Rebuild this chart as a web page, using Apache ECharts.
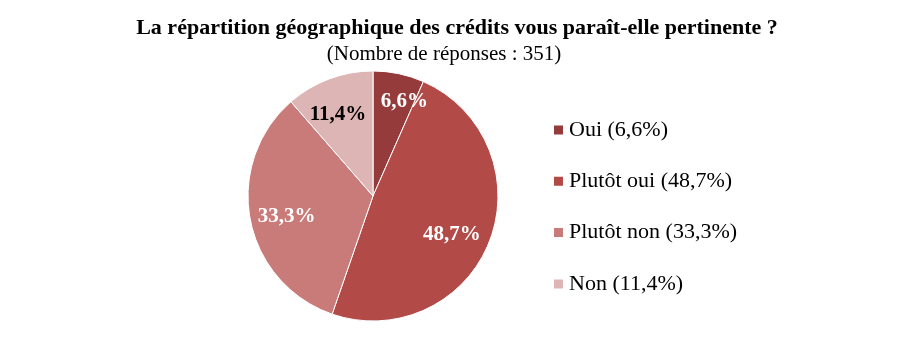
<!DOCTYPE html>
<html><head><meta charset="utf-8">
<script src="https://cdn.jsdelivr.net/npm/echarts@6/dist/echarts.min.js"></script>
<style>html,body{margin:0;padding:0;background:#fff}#c{width:914px;height:362px}</style>
</head><body><div id="c"></div>
<script>
const categories = ['Oui', 'Plutôt oui', 'Plutôt non', 'Non'];
const values = [6.6, 48.7, 33.3, 11.4];
const labels = ['6,6%', '48,7%', '33,3%', '11,4%'];
const colors = ['#963B3B', '#B24A48', '#C87B79', '#DDB5B4'];
const labelColors = ['#fff', '#fff', '#fff', '#000'];
const labelOffsets = [[18, -30], [18, 15], [-22, 8], [-12, -20]];
const font = 'Liberation Serif';

const chart = echarts.init(document.getElementById('c'), null, {renderer: 'canvas'});
chart.setOption({
  animation: false,
  title: [
    {text: 'La répartition géographique des crédits vous paraît-elle pertinente ?', left: 457, top: 17, textAlign: 'center', padding: 0,
     textStyle: {fontFamily: font, fontWeight: 'bold', fontSize: 22, color: '#000'}},
    {text: '(Nombre de réponses : 351)', left: 444, top: 44, textAlign: 'center', padding: 0,
     textStyle: {fontFamily: font, fontWeight: 'normal', fontSize: 21, color: '#000'}}
  ],
  legend: {
    orient: 'vertical', left: 552, top: 119, padding: 0, icon: 'rect', itemWidth: 11, itemHeight: 11, itemGap: 29.3,
    data: categories,
    formatter: n => n + ' (' + labels[categories.indexOf(n)] + ')',
    textStyle: {fontFamily: font, fontSize: 22, color: '#000'}
  },
  series: [{
    type: 'pie', center: [373, 196], radius: [0, 125], startAngle: 90, clockwise: true,
    itemStyle: {borderColor: '#fff', borderWidth: 1},
    label: {position: 'inside', fontFamily: font, fontWeight: 'bold', fontSize: 21},
    labelLine: {show: false},
    emphasis: {disabled: true},
    data: categories.map((c, i) => ({
      name: c, value: values[i],
      itemStyle: {color: colors[i]},
      label: {formatter: labels[i], color: labelColors[i], offset: labelOffsets[i]}
    }))
  }]
});
</script></body></html>
